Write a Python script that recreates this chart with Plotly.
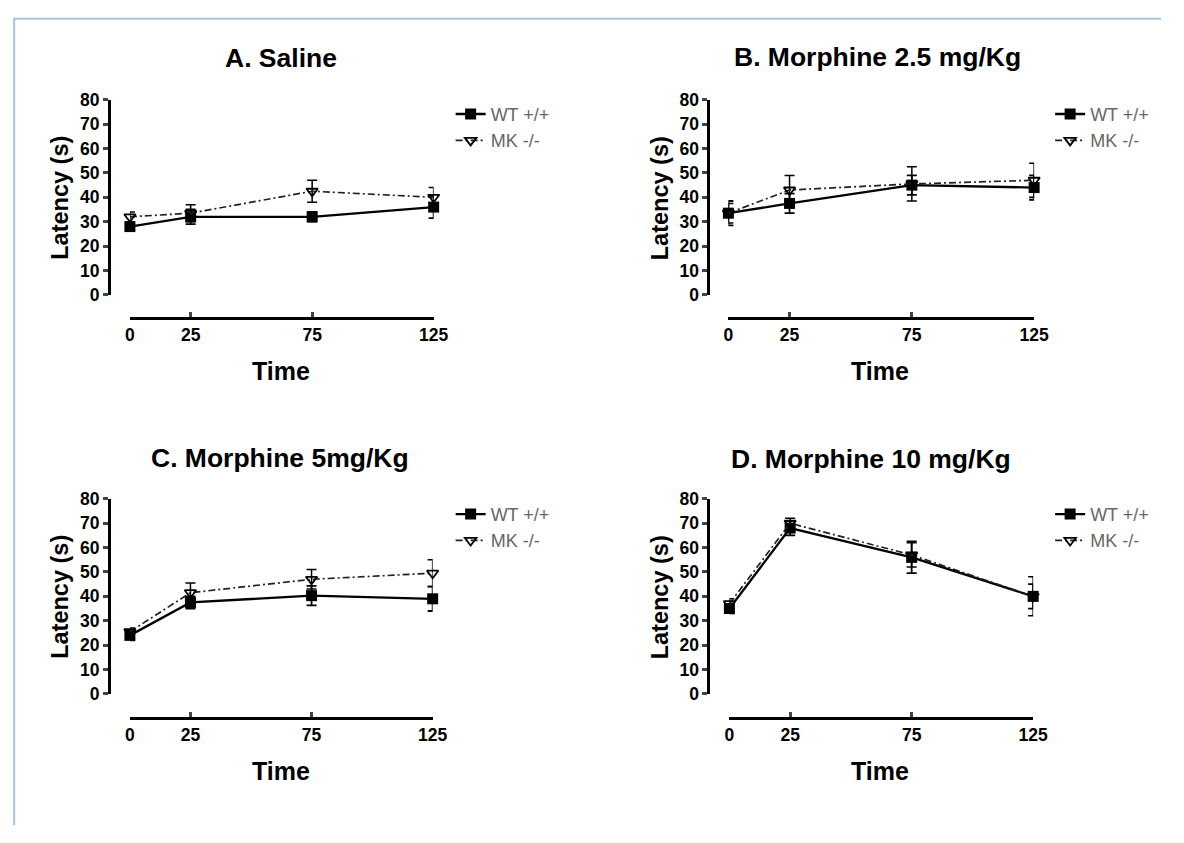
import plotly.graph_objects as go

W, H = 1168, 827

time_points = [0, 25, 75, 125]
series_names = ["WT +/+", "MK -/-"]
panel_titles = ["A. Saline", "B. Morphine 2.5 mg/Kg", "C. Morphine 5mg/Kg", "D. Morphine 10 mg/Kg"]
x_tick_labels = ["0", "25", "75", "125"]
y_tick_values = [0, 10, 20, 30, 40, 50, 60, 70, 80]

# mean latency (s) per panel
wt_saline = [28, 32, 32, 36]
mk_saline = [32, 33.5, 42.5, 40]
wt_m25 = [33.5, 37.5, 45, 44]
mk_m25 = [33.5, 43, 45.5, 47]
wt_m5 = [24, 37.5, 40.3, 39]
mk_m5 = [25.5, 41.5, 47, 49.5]
wt_m10 = [35, 68, 56, 40]
mk_m10 = [37, 70, 57, 40]

# SEM per panel
wt_saline_err = [1.5, 3, 2, 4.5]
mk_saline_err = [2, 3.5, 4.5, 4]
wt_m25_err = [5, 4, 4, 5]
mk_m25_err = [4, 6, 7, 7]
wt_m5_err = [2, 2.5, 4, 5]
mk_m5_err = [1.5, 4, 4, 5.5]
wt_m10_err = [2, 3, 6.5, 5]
mk_m10_err = [2, 2, 5, 8]

panels = [
    (wt_saline, wt_saline_err, mk_saline, mk_saline_err),
    (wt_m25, wt_m25_err, mk_m25, mk_m25_err),
    (wt_m5, wt_m5_err, mk_m5, mk_m5_err),
    (wt_m10, wt_m10_err, mk_m10, mk_m10_err),
]

# target screen geometry: (x0, x1, y_top, y_bottom, yaxis_x, xaxis_y)
geom = [
    (130, 434, 99, 294, 109, 317),
    (729, 1035, 99, 294, 709, 317),
    (130, 433, 498, 693, 109, 717),
    (730, 1034, 498, 693, 709, 717),
]
# legend top-left (screen), title centre, "Time" centre, "Latency" centre
legend_pos = [(451, 95), (1051, 95), (451, 495), (1051, 495)]
title_pos = [(281, 57), (878, 56), (280, 457), (872, 458)]
time_pos = [(281, 370), (881, 370), (281, 770), (881, 770)]
lat_pos = [(60, 197), (660, 197), (60, 596), (660, 596)]

# screen -> figure pixel mapping (calibrated)
AX, BX = 0.9837, 13.0
AY, BY = 0.9757, 17.2

def px(t):
    return ((t - BX) / AX) / W

def py(t):
    return 1 - ((t - BY) / AY) / H

fig = go.Figure()
FONT = "Liberation Sans, Arial, sans-serif"
layout = dict(
    width=W, height=H, margin=dict(l=0, r=0, t=0, b=0),
    paper_bgcolor="white", plot_bgcolor="white",
    font=dict(family=FONT, color="black"),
    annotations=[], shapes=[],
)

for i, (wt, wte, mk, mke) in enumerate(panels):
    n = i + 1
    xa = "x" if n == 1 else f"x{n}"
    ya = "y" if n == 1 else f"y{n}"
    lg = "legend" if n == 1 else f"legend{n}"
    x0, x1, yt, yb, yax, xay = geom[i]
    fig.add_trace(go.Scatter(
        x=time_points, y=wt, name=series_names[0], xaxis=xa, yaxis=ya, legend=lg,
        mode="lines+markers", cliponaxis=False,
        line=dict(color="black", width=2.3),
        marker=dict(symbol="square", size=11, color="black"),
        error_y=dict(type="data", array=wte, color="black", thickness=1.8, width=5),
    ))
    fig.add_trace(go.Scatter(
        x=time_points, y=mk, name=series_names[1], xaxis=xa, yaxis=ya, legend=lg,
        mode="lines+markers", cliponaxis=False,
        line=dict(color="#222", width=1.7, dash="7px,3px,2px,3px"),
        marker=dict(symbol="triangle-down-open", size=10, color="black", line=dict(width=1.8)),
        error_y=dict(type="data", array=mke, color="black", thickness=1.5, width=5),
    ))
    layout["xaxis" if n == 1 else f"xaxis{n}"] = dict(
        domain=[px(x0), px(x1)], range=[0, 125], anchor="free", position=py(xay),
        tickvals=time_points, ticktext=x_tick_labels, ticks="inside", ticklen=5, tickwidth=2.5,
        showline=True, linewidth=3, linecolor="black", showgrid=False, zeroline=False,
        tickfont=dict(size=17.5, family=FONT, weight="bold", color="black"),
        fixedrange=True,
    )
    layout["yaxis" if n == 1 else f"yaxis{n}"] = dict(
        domain=[py(yb), py(yt)], range=[0, 80], anchor="free", position=px(yax),
        tickvals=y_tick_values, ticks="outside", ticklen=5, tickwidth=2.5,
        showline=True, linewidth=3, linecolor="black", showgrid=False, zeroline=False,
        tickfont=dict(size=17.5, family=FONT, weight="bold", color="black"),
        fixedrange=True,
    )
    lx, ly = legend_pos[i]
    layout[lg] = dict(
        x=px(lx), y=py(ly), xanchor="left", yanchor="top", bgcolor="rgba(0,0,0,0)",
        font=dict(size=18, family=FONT, color="#666"), tracegroupgap=0, itemwidth=30,
    )
    tx, ty = title_pos[i]
    layout["annotations"].append(dict(
        text=panel_titles[i], x=px(tx), y=py(ty), xref="paper", yref="paper",
        xanchor="center", yanchor="middle",
        showarrow=False, font=dict(size=26.5, family=FONT, weight="bold", color="black"),
    ))
    tx, ty = time_pos[i]
    layout["annotations"].append(dict(
        text="Time", x=px(tx), y=py(ty), xref="paper", yref="paper",
        xanchor="center", yanchor="middle",
        showarrow=False, font=dict(size=25, family=FONT, weight="bold", color="black"),
    ))
    tx, ty = lat_pos[i]
    layout["annotations"].append(dict(
        text="Latency (s)", x=px(tx), y=py(ty), xref="paper", yref="paper",
        xanchor="center", yanchor="middle",
        showarrow=False, textangle=-90,
        font=dict(size=23.5, family=FONT, weight="bold", color="black"),
    ))

# light blue frame lines (top and left)
layout["shapes"].append(dict(type="line", xref="paper", yref="paper",
                             x0=0, x1=1, y0=0.999, y1=0.999,
                             line=dict(color="#a9c4e2", width=2)))
layout["shapes"].append(dict(type="line", xref="paper", yref="paper",
                             x0=0.001, x1=0.001, y0=0.999, y1=0,
                             line=dict(color="#a9c4e2", width=2)))

fig.update_layout(**layout)
fig.write_html("out.html")
